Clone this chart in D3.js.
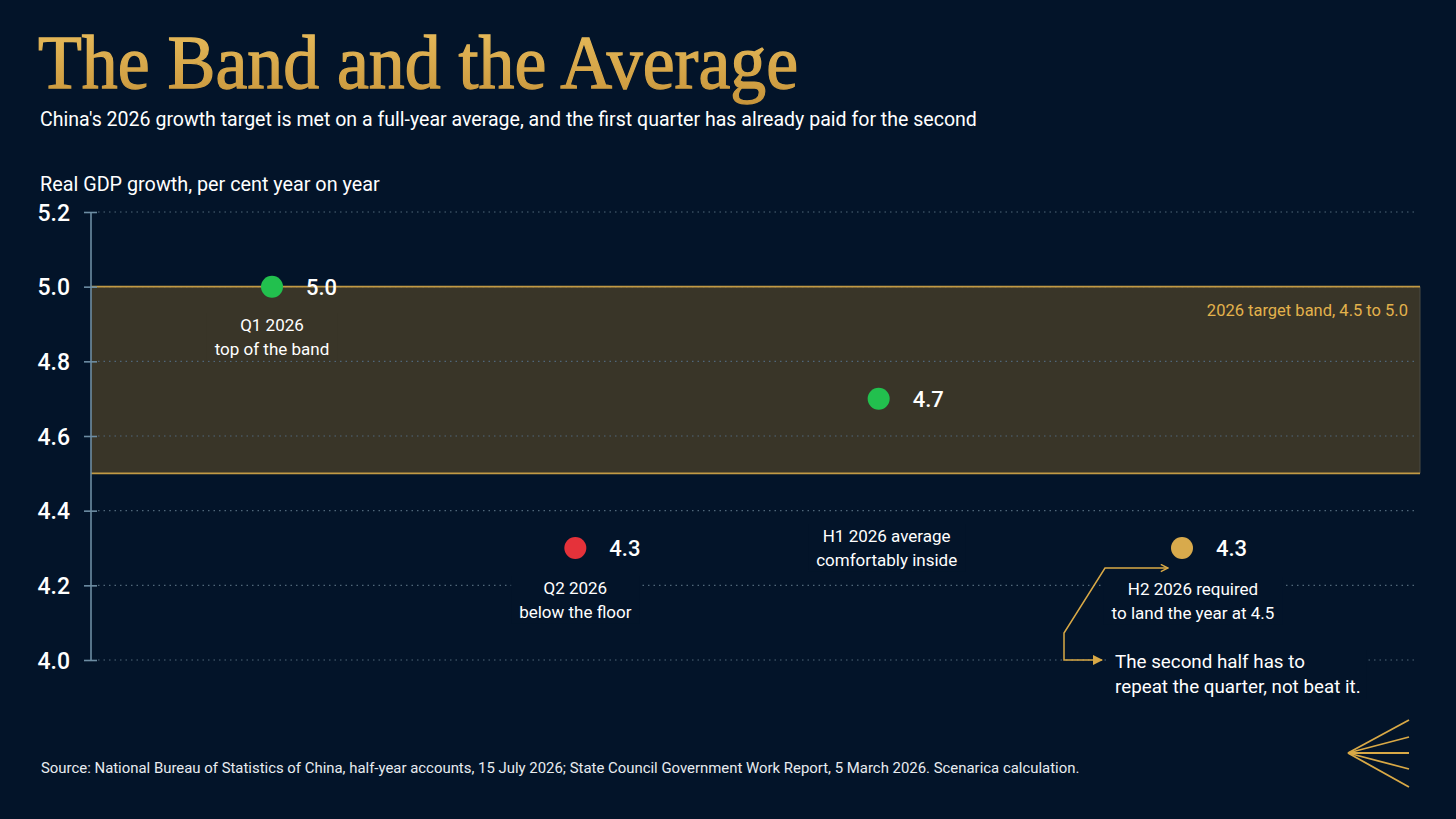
<!DOCTYPE html>
<html><head><meta charset="utf-8">
<script src="https://cdn.jsdelivr.net/npm/d3@7"></script>
<style>
html,body{margin:0;padding:0;background:#031429;}
svg{display:block;}
</style></head>
<body>
<svg id="chart" width="1456" height="819"></svg>
<script>
// ---- data ----
const categories = ["Q1 2026", "Q2 2026", "H1 2026", "H2 2026"];
const values = [5.0, 4.3, 4.7, 4.3];
const valueLabels = ["5.0", "4.3", "4.7", "4.3"];
const pointKinds = ["good", "bad", "good", "required"];
const noteLines = [
  ["Q1 2026", "top of the band"],
  ["Q2 2026", "below the floor"],
  ["H1 2026 average", "comfortably inside"],
  ["H2 2026 required", "to land the year at 4.5"]
];
const yTicks = [4.0, 4.2, 4.4, 4.6, 4.8, 5.0, 5.2];
const yTickLabels = ["4.0", "4.2", "4.4", "4.6", "4.8", "5.0", "5.2"];
const band = [4.5, 5.0];
const bandLabel = "2026 target band, 4.5 to 5.0";
const title = "The Band and the Average";
const subtitle = "China's 2026 growth target is met on a full-year average, and the first quarter has already paid for the second";
const yAxisTitle = "Real GDP growth, per cent year on year";
const calloutLines = ["The second half has to", "repeat the quarter, not beat it."];
const source = "Source: National Bureau of Statistics of China, half-year accounts, 15 July 2026; State Council Government Work Report, 5 March 2026. Scenarica calculation.";

// ---- styles ----
const BG = "#031429", GOLD = "#d9a946", GOLD_LINE = "#c29a45";
const BAND_FILL = "#393528";
const colorOf = {good: "#22c04e", bad: "#e5323a", required: "#d8aa4c"};
const SANS = "Roboto, 'Noto Sans', sans-serif";

const svg = d3.select("#chart");
svg.append("rect").attr("width",1456).attr("height",819).attr("fill",BG);

const defs = svg.append("defs");
const grad = defs.append("linearGradient").attr("id","tg").attr("x1",0).attr("y1",0).attr("x2",0).attr("y2",1);
grad.append("stop").attr("offset","0%").attr("stop-color","#eabf5e");
grad.append("stop").attr("offset","100%").attr("stop-color","#c8953a");
defs.append("marker").attr("id","arr").attr("viewBox","0 0 10 10").attr("refX",9).attr("refY",5)
  .attr("markerWidth",7).attr("markerHeight",7).attr("orient","auto")
  .append("path").attr("d","M0,0 L10,5 L0,10 Z").attr("fill",GOLD);
defs.append("marker").attr("id","arrOpen").attr("viewBox","0 0 10 10").attr("refX",9).attr("refY",5)
  .attr("markerWidth",6).attr("markerHeight",6).attr("orient","auto-start-reverse")
  .append("path").attr("d","M1,1 L9,5 L1,9").attr("fill","none").attr("stroke",GOLD).attr("stroke-width",1.6);

function fitText(sel, width){
  const w = sel.node().getComputedTextLength();
  const fs = parseFloat(sel.attr("font-size"));
  sel.attr("font-size", fs*width/w);
}

// title
svg.append("text").attr("x",38).attr("y",88).text(title)
  .attr("font-family","'Liberation Serif','DejaVu Serif',serif").attr("font-size",76)
  .attr("fill","url(#tg)").attr("stroke","url(#tg)").attr("stroke-width",1.3)
  .attr("textLength",760).attr("lengthAdjust","spacingAndGlyphs");

const st = svg.append("text").attr("x",40).attr("y",126).text(subtitle)
  .attr("font-family",SANS).attr("font-size",19).attr("fill","#ffffff");
fitText(st, 938);

const yt = svg.append("text").attr("x",40).attr("y",191).text(yAxisTitle)
  .attr("font-family",SANS).attr("font-size",19).attr("fill","#ffffff");
fitText(yt, 340);

// scales
const plotLeft = 91, plotRight = 1420;
const y = d3.scaleLinear().domain([4.0, 5.2]).range([660, 212]);
const x = d3.scalePoint().domain(categories).range([272, 1182]);

// band
const g = svg.append("g");
g.append("rect").attr("x",plotLeft).attr("width",plotRight-plotLeft)
  .attr("y",y(band[1])).attr("height",y(band[0])-y(band[1]))
  .attr("fill",BAND_FILL);
g.append("line").attr("x1",plotRight).attr("x2",plotRight).attr("y1",y(band[1])).attr("y2",y(band[0]))
  .attr("stroke","#4b4a42").attr("stroke-width",1);

// gridlines
g.selectAll(".grid").data(yTicks).join("line").attr("class","grid")
  .attr("x1",98).attr("x2",1418).attr("y1",d=>y(d)).attr("y2",d=>y(d))
  .attr("stroke","#50677a").attr("stroke-width",1.2).attr("stroke-dasharray","1.5,4");

// band borders
[band[1], band[0]].forEach(v=>{
  g.append("line").attr("x1",plotLeft).attr("x2",plotRight).attr("y1",y(v)).attr("y2",y(v))
    .attr("stroke",GOLD_LINE).attr("stroke-width",1.6);
});

g.append("text").attr("x",1408).attr("y",316).attr("text-anchor","end").text(bandLabel)
  .attr("font-family",SANS).attr("font-size",16.5).attr("fill","#e3b24c");

// axis
const axis = svg.append("g").attr("transform",`translate(${plotLeft},0)`)
  .call(d3.axisLeft(y).tickValues(yTicks).tickFormat((d,i)=>yTickLabels[i]).tickSize(7).tickPadding(14));
axis.select(".domain").attr("stroke","#6d8da3").attr("stroke-width",1.6).attr("d",`M0,${y(5.2)}V${y(4.0)}`);
axis.selectAll(".tick line").attr("stroke","#6d8da3").attr("stroke-width",1.6).attr("x1",6);
axis.selectAll(".tick text").attr("fill","#ffffff").attr("font-family",SANS).attr("font-size",23)
  .attr("font-weight",500).attr("dy","0.36em");

// annotation notes with background knockouts
const noteAnchor = [
  {dx:0, y1:331}, {dx:0, y1:594}, {dx:8, y1:542}, {dx:11, y1:595}
];
categories.forEach((c,i)=>{
  const cx = x(c) + noteAnchor[i].dx;
  const bgc = (i===0) ? BAND_FILL : BG;
  const tg = svg.append("g");
  const txt = tg.append("text").attr("text-anchor","middle").attr("font-family",SANS)
    .attr("font-size",17).attr("fill","#ffffff");
  noteLines[i].forEach((l,k)=>{
    txt.append("tspan").attr("x",cx).attr("y",noteAnchor[i].y1 + k*23.5).text(l);
  });
  const bb = txt.node().getBBox();
  tg.insert("rect","text").attr("x",bb.x-8).attr("y",bb.y-2).attr("width",bb.width+16).attr("height",bb.height+4)
    .attr("fill",bgc);
});

// callout arrow
const ah = d3.path();
ah.moveTo(1168, 568); ah.lineTo(1105, 568); ah.lineTo(1064, 633); ah.lineTo(1064, 660); ah.lineTo(1102, 660);
svg.append("path").attr("d", ah.toString()).attr("fill","none").attr("stroke",GOLD).attr("stroke-width",1.5)
  .attr("marker-end","url(#arr)").attr("marker-start","url(#arrOpen)");

const co = svg.append("g");
const cot = co.append("text").attr("font-family",SANS).attr("font-size",18.8).attr("fill","#ffffff");
calloutLines.forEach((l,k)=>cot.append("tspan").attr("x",1115).attr("y",668+k*25).text(l));
const cbb = cot.node().getBBox();
co.insert("rect","text").attr("x",cbb.x-6).attr("y",cbb.y-1).attr("width",cbb.width+12).attr("height",cbb.height+2).attr("fill",BG);

// points
const pts = svg.append("g");
pts.selectAll("circle").data(categories).join("circle")
  .attr("cx",d=>x(d)).attr("cy",(d,i)=>y(values[i])).attr("r",11)
  .attr("fill",(d,i)=>colorOf[pointKinds[i]]);
pts.selectAll("text").data(categories).join("text")
  .attr("x",d=>x(d)+34).attr("y",(d,i)=>y(values[i])+8).text((d,i)=>valueLabels[i])
  .attr("font-family",SANS).attr("font-size",22).attr("font-weight",500).attr("fill","#ffffff");

// source
const src = svg.append("text").attr("x",41).attr("y",773).text(source)
  .attr("font-family",SANS).attr("font-size",15).attr("fill","#e8ecf0");
fitText(src, 1039);

// logo
const logo = svg.append("g").attr("stroke",GOLD).attr("stroke-width",1.8).attr("fill","none");
[720, 737, 753, 769, 787].forEach(yy=>{
  logo.append("line").attr("x1",1348).attr("y1",753).attr("x2",1409).attr("y2",yy);
});
</script>
</body></html>
